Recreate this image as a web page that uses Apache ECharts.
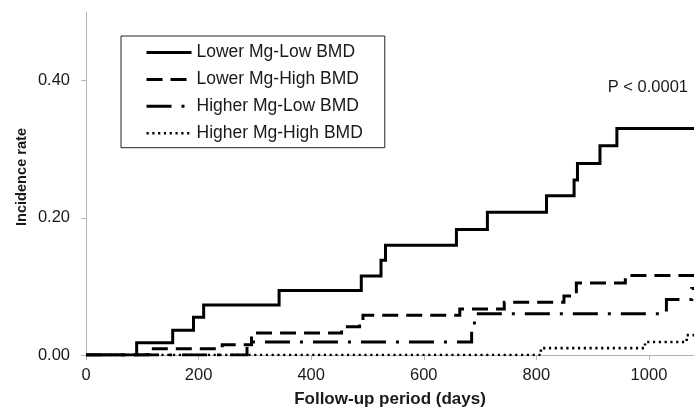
<!DOCTYPE html>
<html><head><meta charset="utf-8">
<script src="https://cdn.jsdelivr.net/npm/echarts@6/dist/echarts.min.js"></script>
<style>html,body{margin:0;padding:0;background:#fff}#c{width:694px;height:413px}</style>
</head><body><div id="c"></div>
<script>
// ---- data ----
const seriesNames = ['Lower Mg-Low BMD', 'Lower Mg-High BMD', 'Higher Mg-Low BMD', 'Higher Mg-High BMD'];
const lowerLowDays  = [0, 90, 154, 191, 209, 343, 489, 524, 532, 658, 713, 818, 867, 873, 913, 943, 1080];
const lowerLowRate  = [0, 0.018, 0.036, 0.055, 0.073, 0.094, 0.115, 0.138, 0.160, 0.183, 0.208, 0.232, 0.255, 0.279, 0.305, 0.330, 0.330];
const lowerHighDays = [0, 110, 242, 294, 454, 486, 492, 664, 743, 849, 871, 958, 1080];
const lowerHighRate = [0, 0.009, 0.015, 0.032, 0.041, 0.051, 0.058, 0.067, 0.077, 0.086, 0.105, 0.116, 0.116];
const higherLowDays = [0, 286, 685, 690, 1031, 1076, 1080];
const higherLowRate = [0, 0.019, 0.040, 0.060, 0.081, 0.097, 0.097];
const higherHighDays = [0, 808, 993, 1067, 1080];
const higherHighRate = [0, 0.010, 0.019, 0.029, 0.029];
const xTicks = [0, 200, 400, 600, 800, 1000];
const yTicks = [0, 0.2, 0.4];
const xTitle = 'Follow-up period (days)';
const yTitle = 'Incidence rate';
const pText = 'P < 0.0001';

// ---- chart ----
const FONT = '"Liberation Sans", Arial, sans-serif';
const TXT = '#1a1a1a';
function zip(a, b) { return a.map((v, i) => [v, b[i]]); }
const styles = [
  { type: 'solid', width: 3 },
  { type: [16, 8], width: 3 },
  { type: [25, 10, 3, 10], width: 3 },
  { type: [2.2, 3.6], width: 2.6 }
];
const datas = [zip(lowerLowDays, lowerLowRate), zip(lowerHighDays, lowerHighRate),
               zip(higherLowDays, higherLowRate), zip(higherHighDays, higherHighRate)];

const chart = echarts.init(document.getElementById('c'), null, { renderer: 'canvas' });
chart.setOption({
  animation: false,
  backgroundColor: '#fff',
  textStyle: { fontFamily: FONT },
  grid: { left: 86, right: 0, top: 12, bottom: 54, containLabel: false },
  xAxis: {
    type: 'value', min: 0, max: 1080, interval: 200,
    name: xTitle, nameLocation: 'middle', nameGap: 36,
    nameTextStyle: { fontFamily: FONT, fontWeight: 'bold', fontSize: 17, color: TXT },
    axisLine: { show: true, lineStyle: { color: '#b4b4b4', width: 1 } },
    axisTick: { show: true, length: 5, customValues: xTicks, lineStyle: { color: '#b4b4b4' } },
    axisLabel: { customValues: xTicks, margin: 12, fontSize: 16.5, color: TXT, fontFamily: FONT,
                 formatter: v => String(v) },
    splitLine: { show: false }
  },
  yAxis: {
    type: 'value', min: 0, max: 0.5, interval: 0.2,
    axisLine: { show: true, lineStyle: { color: '#b4b4b4', width: 1 } },
    axisTick: { show: true, length: 5, customValues: yTicks, lineStyle: { color: '#b4b4b4' } },
    axisLabel: { customValues: yTicks, margin: 16, fontSize: 16.5, color: TXT, fontFamily: FONT,
                 formatter: v => v.toFixed(2) },
    splitLine: { show: false }
  },
  legend: {
    orient: 'vertical', left: 121, top: 36,
    padding: [7.5, 22, 5.5, 24], itemGap: 8.9,
    itemWidth: 45, itemHeight: 14,
    borderColor: '#222', borderWidth: 1,
    itemStyle: { opacity: 0 },
    data: seriesNames.map((n, i) => ({
      name: n,
      lineStyle: { width: styles[i].width, type: styles[i].type, color: '#000', cap: 'butt' }
    })),
    textStyle: { fontFamily: FONT, fontSize: 17.5, color: TXT, lineHeight: 17 }
  },
  graphic: [
    { type: 'text', x: 22, y: 177, rotation: Math.PI / 2,
      style: { text: yTitle, fill: TXT, font: 'bold 14.6px ' + FONT, textAlign: 'center', textVerticalAlign: 'middle' } },
    { type: 'text', x: 688, y: 87,
      style: { text: pText, fill: TXT, font: '16.5px ' + FONT, textAlign: 'right', textVerticalAlign: 'middle' } }
  ],
  series: seriesNames.map((n, i) => ({
    name: n, type: 'line', step: 'end', symbol: 'none', silent: true,
    data: datas[i], z: 10 - i,
    lineStyle: { color: '#000', width: styles[i].width, type: styles[i].type, cap: 'butt', join: 'miter' },
    itemStyle: { color: '#000' }
  }))
});
</script></body></html>
